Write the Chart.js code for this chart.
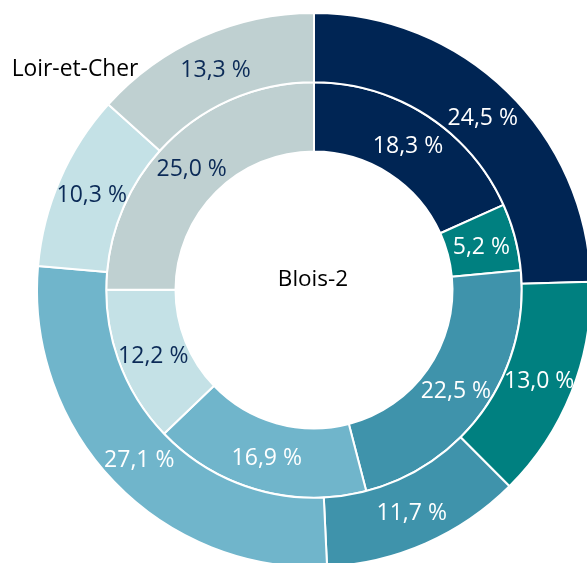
<!DOCTYPE html>
<html>
<head>
<meta charset="utf-8">
<script src="https://cdn.jsdelivr.net/npm/chart.js@4"></script>
<style>
  html, body { margin:0; padding:0; background:#ffffff; overflow:hidden; width:587px; height:563px; }
  #wrap { position:absolute; left:36px; top:12px; width:556px; height:556px; }
  .ttl { position:absolute; font-family:"Open Sans", sans-serif; color:#000; white-space:nowrap; transform:translate(-50%,-50%); }
</style>
</head>
<body>
<div id="wrap"><canvas id="c"></canvas></div>
<div class="ttl" id="tOuter" style="left:75px;top:67px;font-size:22.8px;">Loir-et-Cher</div>
<div class="ttl" id="tInner" style="left:313px;top:277px;font-size:22.5px;">Blois-2</div>
<script>
// ---- data ----
const categories = ['Catégorie 1', 'Catégorie 2', 'Catégorie 3', 'Catégorie 4', 'Catégorie 5', 'Catégorie 6'];
const seriesNames = ['Loir-et-Cher', 'Blois-2'];
const outerValues = [24.5, 13.0, 11.7, 27.1, 10.3, 13.3]; // Loir-et-Cher
const innerValues = [18.3, 5.2, 22.5, 16.9, 12.2, 25.0];  // Blois-2

// ---- styles ----
const sliceColors = ['#002554', '#008080', '#3f93ab', '#70b5cb', '#c4e1e6', '#bfd0d1'];
const labelColors = ['#ffffff', '#ffffff', '#ffffff', '#ffffff', '#0b2a57', '#0b2a57'];

const fmt = v => v.toFixed(1).replace('.', ',') + ' %';

const labelPlugin = {
  id: 'sliceLabels',
  afterDatasetsDraw(chart) {
    const ctx = chart.ctx;
    ctx.save();
    ctx.font = '23px "Open Sans", sans-serif';
    ctx.textAlign = 'center';
    ctx.textBaseline = 'middle';
    chart.data.datasets.forEach((ds, di) => {
      const meta = chart.getDatasetMeta(di);
      meta.data.forEach((arc, i) => {
        const p = arc.tooltipPosition();
        ctx.fillStyle = labelColors[i];
        ctx.fillText(fmt(ds.data[i]), p.x, p.y + 2);
      });
    });
    ctx.restore();
  }
};

new Chart(document.getElementById('c'), {
  type: 'doughnut',
  data: {
    labels: categories,
    datasets: [
      { label: seriesNames[0], data: outerValues, backgroundColor: sliceColors, borderColor: '#ffffff', borderWidth: 2 },
      { label: seriesNames[1], data: innerValues, backgroundColor: sliceColors, borderColor: '#ffffff', borderWidth: 2 }
    ]
  },
  options: {
    responsive: true,
    maintainAspectRatio: false,
    animation: false,
    cutout: '50%',
    layout: { padding: 0 },
    plugins: {
      legend: { display: false },
      tooltip: { enabled: false },
      title: { display: false }
    }
  },
  plugins: [labelPlugin]
});
</script>
</body>
</html>
